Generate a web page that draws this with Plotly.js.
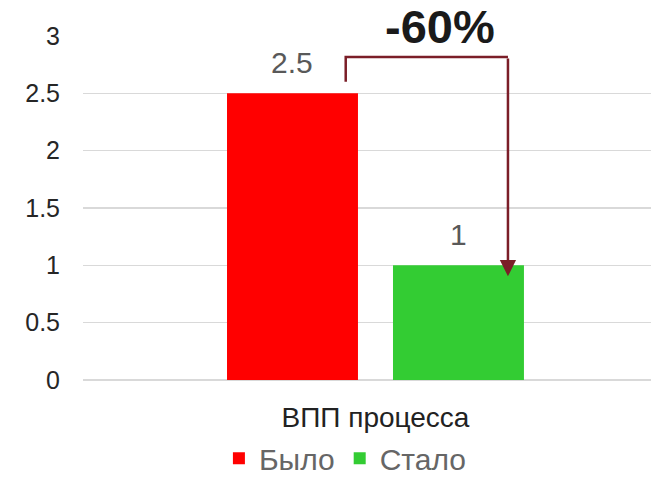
<!DOCTYPE html>
<html><head><meta charset="utf-8">
<script src="https://cdn.plot.ly/plotly-3.0.1.min.js"></script>
<style>html,body{margin:0;padding:0;background:#fff}#chart{width:651px;height:478px}</style>
</head><body><div id="chart"></div>
<script>
// ---- data ----
const categories = ['ВПП процесса'];
const seriesNames = ['Было', 'Стало'];
const valuesBefore = [2.5];
const valuesAfter = [1];
const changeLabel = '-60%';
const yTickVals = [0, 0.5, 1, 1.5, 2, 2.5, 3];

// ---- style ----
const FONT = '"Liberation Sans", Arial, sans-serif';
const colors = ['#FF0000', '#33CC33'];
const arrowColor = '#7B1E28';
const bargap = 0.4325, bargroupgap = 0.211;
const slot = (1 - bargap) / 2;          // width of one bar slot in category units
const cBefore = -slot / 2, cAfter = slot / 2;   // bar centres (category 0)

const traces = [
  {type: 'bar', name: seriesNames[0], x: categories, y: valuesBefore,
   marker: {color: colors[0]}, hoverinfo: 'skip'},
  {type: 'bar', name: seriesNames[1], x: categories, y: valuesAfter,
   marker: {color: colors[1]}, hoverinfo: 'skip'}
];

const xL = cBefore + 0.091, xR = cAfter + 0.0846;
const yTop = Math.max(valuesBefore[0], valuesAfter[0]) + 0.317;

const annotations = [
  {x: cBefore, y: valuesBefore[0], xref: 'x', yref: 'y', text: String(valuesBefore[0]),
   showarrow: false, yanchor: 'bottom', yshift: 12, font: {family: FONT, size: 30, color: '#595959'}},
  {x: cAfter, y: valuesAfter[0], xref: 'x', yref: 'y', text: String(valuesAfter[0]),
   showarrow: false, yanchor: 'bottom', yshift: 12, font: {family: FONT, size: 30, color: '#595959'}},
  {x: xR, y: valuesAfter[0] - 0.095, xref: 'x', yref: 'y', ax: xR, ay: yTop, axref: 'x', ayref: 'y',
   text: '', showarrow: true, arrowhead: 2, arrowsize: 1.3, arrowwidth: 2.5, arrowcolor: arrowColor},
  {x: (xL + xR) / 2, y: yTop, xref: 'x', yref: 'y', text: '<b>' + changeLabel + '</b>',
   showarrow: false, yanchor: 'bottom', yshift: 2, xshift: 13, font: {family: FONT, size: 47, color: '#1a1a1a'}}
];

const shapes = [
  {type: 'path', xref: 'x', yref: 'y',
   path: 'M' + xL + ',' + (valuesBefore[0] + 0.1) + ' L' + xL + ',' + yTop + ' L' + xR + ',' + yTop,
   line: {color: arrowColor, width: 2.5}}
];

const layout = {
  width: 651, height: 478,
  margin: {l: 83, r: 0, t: 36, b: 98, pad: 0, autoexpand: false},
  paper_bgcolor: '#fff', plot_bgcolor: '#fff',
  font: {family: FONT},
  barmode: 'group', bargap: bargap, bargroupgap: bargroupgap,
  showlegend: true,
  legend: {orientation: 'h', x: 0.462, xanchor: 'center', y: -0.152, yref: 'paper', yanchor: 'top',
           tracegroupgap: 0, bgcolor: 'rgba(0,0,0,0)',
           font: {family: FONT, size: 30, color: '#666666'}},
  xaxis: {type: 'category', range: [-0.5, 0.471], fixedrange: true, automargin: false,
          showgrid: false, showline: false, zeroline: false, ticks: '', ticklabelstandoff: 18,
          tickfont: {family: FONT, size: 28, color: '#222222'}},
  yaxis: {range: [0, 3], tickvals: yTickVals, fixedrange: true, automargin: false,
          showgrid: true, gridcolor: '#d9d9d9', gridwidth: 1.5,
          zeroline: true, zerolinecolor: '#d9d9d9', zerolinewidth: 1.5,
          showline: false, ticks: '', ticklabelstandoff: 22,
          tickfont: {family: FONT, size: 25, color: '#262626'}},
  annotations: annotations,
  shapes: shapes
};

Plotly.newPlot('chart', traces, layout, {displayModeBar: false, staticPlot: true});
</script></body></html>
